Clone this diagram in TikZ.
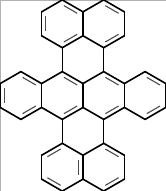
\documentclass[tikz,border=0pt]{standalone}
\usetikzlibrary{calc}
\begin{document}
\begin{tikzpicture}[x=23.9pt,y=23.9pt,
  bond/.style={line width=1.6pt,black,line cap=round},
  inner/.style={line width=1.1pt,black!70,line cap=butt},
  frame/.style={line width=1pt,gray!60}]
\def\s{0.8660}
\useasboundingbox (-83pt,-95.5pt) rectangle (83pt,95.5pt);
\clip (-83pt,-95.5pt) rectangle (83pt,95.5pt);
% atoms
\coordinate (t1) at (-\s,4);   \coordinate (t2) at (0,3.5);
\coordinate (t3) at (\s,4);    \coordinate (t4) at (2*\s,3.5);
\coordinate (t5) at (2*\s,2.5);\coordinate (t6) at (\s,2);
\coordinate (t7) at (0,2.5);   \coordinate (t8) at (-\s,2);
\coordinate (t9) at (-2*\s,2.5);\coordinate (t10) at (-2*\s,3.5);
\coordinate (m1) at (-\s,1);   \coordinate (m2) at (0,0.5);
\coordinate (m3) at (\s,1);    \coordinate (m4) at (2*\s,0.5);
\coordinate (m5) at (3*\s,1);  \coordinate (m6) at (4*\s,0.5);
\coordinate (m7) at (4*\s,-0.5);\coordinate (m8) at (3*\s,-1);
\coordinate (m9) at (2*\s,-0.5);\coordinate (m10) at (\s,-1);
\coordinate (m11) at (0,-0.5); \coordinate (m12) at (-\s,-1);
\coordinate (m13) at (-2*\s,-0.5);\coordinate (m14) at (-3*\s,-1);
\coordinate (m15) at (-4*\s,-0.5);\coordinate (m16) at (-4*\s,0.5);
\coordinate (m17) at (-3*\s,1);\coordinate (m18) at (-2*\s,0.5);
\coordinate (b1) at (-\s,-2);  \coordinate (b2) at (0,-2.5);
\coordinate (b3) at (\s,-2);   \coordinate (b4) at (2*\s,-2.5);
\coordinate (b5) at (2*\s,-3.5);\coordinate (b6) at (\s,-4);
\coordinate (b7) at (0,-3.5);  \coordinate (b8) at (-\s,-4);
\coordinate (b9) at (-2*\s,-3.5);\coordinate (b10) at (-2*\s,-2.5);
% ring centres
\coordinate (cT1) at (-\s,3); \coordinate (cT2) at (\s,3);
\coordinate (cM1) at (-3*\s,0); \coordinate (cM2) at (-\s,0);
\coordinate (cM3) at (\s,0); \coordinate (cM4) at (3*\s,0);
\coordinate (cB1) at (-\s,-3); \coordinate (cB2) at (\s,-3);
% frame
\draw[frame] (-82.5pt,-95.5pt) -- (-82.5pt,95pt) -- (83pt,95pt);
% bonds
\foreach \a/\b in {t1/t2,t2/t3,t3/t4,t4/t5,t5/t6,t6/t7,t7/t8,t8/t9,t9/t10,t10/t1,t2/t7,
  t8/m1,t6/m3,
  m1/m2,m2/m3,m3/m4,m4/m5,m5/m6,m6/m7,m7/m8,m8/m9,m9/m10,m10/m11,m11/m12,m12/m13,
  m13/m14,m14/m15,m15/m16,m16/m17,m17/m18,m18/m1,m2/m11,m4/m9,m13/m18,
  m12/b1,m10/b3,
  b1/b2,b2/b3,b3/b4,b4/b5,b5/b6,b6/b7,b7/b8,b8/b9,b9/b10,b10/b1,b2/b7}
  \draw[bond] (\a) -- (\b);
% double bond inner lines
\foreach \a/\b/\c in {t10/t9/cT1,t1/t2/cT1,t7/t8/cT1,t3/t4/cT2,t5/t6/cT2,
  m17/m18/cM1,m13/m14/cM1,m15/m16/cM1,m1/m2/cM2,m11/m12/cM2,
  m3/m4/cM3,m9/m10/cM3,m5/m6/cM4,m7/m8/cM4,
  b1/b10/cB1,b9/b8/cB1,b2/b7/cB1,b3/b4/cB2,b5/b6/cB2}
  \draw[inner] ($($(\a)!0.2!(\c)$)!0.1!($(\b)!0.2!(\c)$)$) -- ($($(\b)!0.2!(\c)$)!0.1!($(\a)!0.2!(\c)$)$);
\end{tikzpicture}
\end{document}
